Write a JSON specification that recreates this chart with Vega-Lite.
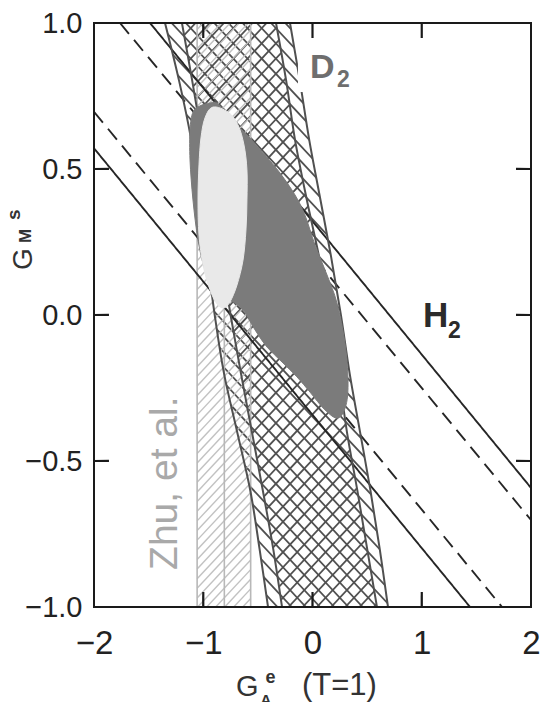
{
  "$schema": "https://vega.github.io/schema/vega-lite/v6.json",
  "width": 437,
  "height": 584,
  "autosize": "none",
  "padding": {"left": 94, "top": 23, "right": 10, "bottom": 95},
  "background": "white",
  "config": {
    "font": "Liberation Sans",
    "view": {"stroke": null},
    "axis": {"domain": false, "ticks": false, "grid": false, "labelColor": "#222", "labelFont": "Liberation Sans"}
  },
  "datasets": {
    "slash": [
      {"p": -6.2, "q": -1.2}, {"p": -6.07, "q": -1.07}, {"p": -5.94, "q": -0.94}, {"p": -5.81, "q": -0.81},
      {"p": -5.68, "q": -0.68}, {"p": -5.55, "q": -0.55}, {"p": -5.42, "q": -0.42}, {"p": -5.29, "q": -0.29},
      {"p": -5.16, "q": -0.16}, {"p": -5.03, "q": -0.03}, {"p": -4.9, "q": 0.1}, {"p": -4.77, "q": 0.23},
      {"p": -4.64, "q": 0.36}, {"p": -4.51, "q": 0.49}, {"p": -4.38, "q": 0.62}, {"p": -4.25, "q": 0.75},
      {"p": -4.12, "q": 0.88}, {"p": -3.99, "q": 1.01}, {"p": -3.86, "q": 1.14}, {"p": -3.73, "q": 1.27},
      {"p": -3.6, "q": 1.4}, {"p": -3.47, "q": 1.53}, {"p": -3.34, "q": 1.66}, {"p": -3.21, "q": 1.79},
      {"p": -3.08, "q": 1.92}, {"p": -2.95, "q": 2.05}, {"p": -2.82, "q": 2.18}, {"p": -2.69, "q": 2.31},
      {"p": -2.56, "q": 2.44}, {"p": -2.43, "q": 2.57}, {"p": -2.3, "q": 2.7}, {"p": -2.17, "q": 2.83},
      {"p": -2.04, "q": 2.96}, {"p": -1.91, "q": 3.09}, {"p": -1.78, "q": 3.22}, {"p": -1.65, "q": 3.35},
      {"p": -1.52, "q": 3.48}, {"p": -1.39, "q": 3.61}, {"p": -1.26, "q": 3.74}, {"p": -1.13, "q": 3.87},
      {"p": -1.0, "q": 4.0}, {"p": -0.87, "q": 4.13}, {"p": -0.74, "q": 4.26}, {"p": -0.61, "q": 4.39},
      {"p": -0.48, "q": 4.52}, {"p": -0.35, "q": 4.65}, {"p": -0.22, "q": 4.78}, {"p": -0.09, "q": 4.91},
      {"p": 0.04, "q": 5.04}, {"p": 0.17, "q": 5.17}, {"p": 0.3, "q": 5.3}, {"p": 0.43, "q": 5.43},
      {"p": 0.56, "q": 5.56}, {"p": 0.69, "q": 5.69}
    ],
    "back": [
      {"t": -5.45, "b": -0.45}, {"t": -5.32, "b": -0.32}, {"t": -5.19, "b": -0.19}, {"t": -5.06, "b": -0.06},
      {"t": -4.93, "b": 0.07}, {"t": -4.8, "b": 0.2}, {"t": -4.67, "b": 0.33}, {"t": -4.54, "b": 0.46},
      {"t": -4.41, "b": 0.59}, {"t": -4.28, "b": 0.72}, {"t": -4.15, "b": 0.85}, {"t": -4.02, "b": 0.98},
      {"t": -3.89, "b": 1.11}, {"t": -3.76, "b": 1.24}, {"t": -3.63, "b": 1.37}, {"t": -3.5, "b": 1.5},
      {"t": -3.37, "b": 1.63}, {"t": -3.24, "b": 1.76}, {"t": -3.11, "b": 1.89}, {"t": -2.98, "b": 2.02},
      {"t": -2.85, "b": 2.15}, {"t": -2.72, "b": 2.28}, {"t": -2.59, "b": 2.41}, {"t": -2.46, "b": 2.54},
      {"t": -2.33, "b": 2.67}, {"t": -2.2, "b": 2.8}, {"t": -2.07, "b": 2.93}, {"t": -1.94, "b": 3.06},
      {"t": -1.81, "b": 3.19}, {"t": -1.68, "b": 3.32}, {"t": -1.55, "b": 3.45}, {"t": -1.42, "b": 3.58},
      {"t": -1.29, "b": 3.71}, {"t": -1.16, "b": 3.84}, {"t": -1.03, "b": 3.97}, {"t": -0.9, "b": 4.1},
      {"t": -0.77, "b": 4.23}, {"t": -0.64, "b": 4.36}, {"t": -0.51, "b": 4.49}, {"t": -0.38, "b": 4.62},
      {"t": -0.25, "b": 4.75}, {"t": -0.12, "b": 4.88}
    ],
    "zhu": [
      {"c": -1.2, "d": -1.004}, {"c": -1.167, "d": -0.971}, {"c": -1.134, "d": -0.938}, {"c": -1.101, "d": -0.905},
      {"c": -1.068, "d": -0.872}, {"c": -1.035, "d": -0.839}, {"c": -1.002, "d": -0.806}, {"c": -0.969, "d": -0.773},
      {"c": -0.936, "d": -0.74}, {"c": -0.903, "d": -0.707}, {"c": -0.87, "d": -0.674}, {"c": -0.837, "d": -0.641},
      {"c": -0.804, "d": -0.608}, {"c": -0.771, "d": -0.575}, {"c": -0.738, "d": -0.542}, {"c": -0.705, "d": -0.509},
      {"c": -0.672, "d": -0.476}, {"c": -0.639, "d": -0.443}, {"c": -0.606, "d": -0.41}, {"c": -0.573, "d": -0.377},
      {"c": -0.54, "d": -0.344}, {"c": -0.507, "d": -0.311}, {"c": -0.474, "d": -0.278}, {"c": -0.441, "d": -0.245},
      {"c": -0.408, "d": -0.212}, {"c": -0.375, "d": -0.179}, {"c": -0.342, "d": -0.146}, {"c": -0.309, "d": -0.113},
      {"c": -0.276, "d": -0.08}, {"c": -0.243, "d": -0.047}, {"c": -0.21, "d": -0.014}, {"c": -0.177, "d": 0.019},
      {"c": -0.144, "d": 0.052}, {"c": -0.111, "d": 0.085}, {"c": -0.078, "d": 0.118}, {"c": -0.045, "d": 0.151},
      {"c": -0.012, "d": 0.184}, {"c": 0.021, "d": 0.217}, {"c": 0.054, "d": 0.25}, {"c": 0.087, "d": 0.283},
      {"c": 0.12, "d": 0.316}, {"c": 0.153, "d": 0.349}, {"c": 0.186, "d": 0.382}, {"c": 0.219, "d": 0.415},
      {"c": 0.252, "d": 0.448}, {"c": 0.285, "d": 0.481}, {"c": 0.318, "d": 0.514}, {"c": 0.351, "d": 0.547},
      {"c": 0.384, "d": 0.58}, {"c": 0.417, "d": 0.613}, {"c": 0.45, "d": 0.646}, {"c": 0.483, "d": 0.679},
      {"c": 0.516, "d": 0.712}, {"c": 0.549, "d": 0.745}, {"c": 0.582, "d": 0.778}, {"c": 0.615, "d": 0.811},
      {"c": 0.648, "d": 0.844}, {"c": 0.681, "d": 0.877}, {"c": 0.714, "d": 0.91}, {"c": 0.747, "d": 0.943},
      {"c": 0.78, "d": 0.976}, {"c": 0.813, "d": 1.009}, {"c": 0.846, "d": 1.042}, {"c": 0.879, "d": 1.075},
      {"c": 0.912, "d": 1.108}, {"c": 0.945, "d": 1.141}, {"c": 0.978, "d": 1.174}
    ],
    "zhulines": [
      {"x": -1.056, "y": -1, "y2": 1},
      {"x": -0.807, "y": -1, "y2": 0.16},
      {"x": -0.566, "y": -1, "y2": 1}
    ],
    "curves": [
      {"curve": "OL", "x": -1.35, "y": 1}, {"curve": "OL", "x": -1.22, "y": 0.8}, {"curve": "OL", "x": -1.11, "y": 0.6},
      {"curve": "OL", "x": -1.03, "y": 0.4}, {"curve": "OL", "x": -0.965, "y": 0.2}, {"curve": "OL", "x": -0.895, "y": 0},
      {"curve": "OL", "x": -0.81, "y": -0.2}, {"curve": "OL", "x": -0.69, "y": -0.4}, {"curve": "OL", "x": -0.57, "y": -0.6},
      {"curve": "OL", "x": -0.485, "y": -0.8}, {"curve": "OL", "x": -0.407, "y": -1},
      {"curve": "IL", "x": -1.195, "y": 1}, {"curve": "IL", "x": -1.1, "y": 0.8}, {"curve": "IL", "x": -1.01, "y": 0.6},
      {"curve": "IL", "x": -0.92, "y": 0.4}, {"curve": "IL", "x": -0.835, "y": 0.2}, {"curve": "IL", "x": -0.75, "y": 0},
      {"curve": "IL", "x": -0.655, "y": -0.2}, {"curve": "IL", "x": -0.555, "y": -0.4}, {"curve": "IL", "x": -0.455, "y": -0.6},
      {"curve": "IL", "x": -0.36, "y": -0.8}, {"curve": "IL", "x": -0.279, "y": -1},
      {"curve": "IR", "x": -0.334, "y": 1}, {"curve": "IR", "x": -0.24, "y": 0.8}, {"curve": "IR", "x": -0.16, "y": 0.6},
      {"curve": "IR", "x": -0.055, "y": 0.4}, {"curve": "IR", "x": 0.06, "y": 0.2}, {"curve": "IR", "x": 0.16, "y": 0},
      {"curve": "IR", "x": 0.24, "y": -0.2}, {"curve": "IR", "x": 0.315, "y": -0.4}, {"curve": "IR", "x": 0.41, "y": -0.6},
      {"curve": "IR", "x": 0.5, "y": -0.8}, {"curve": "IR", "x": 0.59, "y": -1},
      {"curve": "OR", "x": -0.206, "y": 1}, {"curve": "OR", "x": -0.115, "y": 0.8}, {"curve": "OR", "x": -0.03, "y": 0.6},
      {"curve": "OR", "x": 0.07, "y": 0.4}, {"curve": "OR", "x": 0.17, "y": 0.2}, {"curve": "OR", "x": 0.26, "y": 0},
      {"curve": "OR", "x": 0.34, "y": -0.2}, {"curve": "OR", "x": 0.435, "y": -0.4}, {"curve": "OR", "x": 0.53, "y": -0.6},
      {"curve": "OR", "x": 0.615, "y": -0.8}, {"curve": "OR", "x": 0.691, "y": -1}
    ],
    "h2": [
      {"band": "outer", "x": -2, "y": 0.571, "x2": 1.442, "y2": -1},
      {"band": "inner", "x": -2, "y": 0.696, "x2": 1.735, "y2": -1},
      {"band": "inner", "x": -1.762, "y": 1, "x2": 2, "y2": -0.702},
      {"band": "outer", "x": -1.487, "y": 1, "x2": 2, "y2": -0.592},
      {"band": "tick", "x": -1, "y": -1, "x2": -0.9999, "y2": -0.949},
      {"band": "tick", "x": 0, "y": -1, "x2": 0.0001, "y2": -0.949},
      {"band": "tick", "x": 1, "y": -1, "x2": 1.0001, "y2": -0.949},
      {"band": "tick", "x": -1, "y": 1, "x2": -0.9999, "y2": 0.949},
      {"band": "tick", "x": 0, "y": 1, "x2": 0.0001, "y2": 0.949},
      {"band": "tick", "x": 1, "y": 1, "x2": 1.0001, "y2": 0.949},
      {"band": "tick", "x": -2, "y": -0.5, "x2": -1.863, "y2": -0.4999},
      {"band": "tick", "x": -2, "y": 0, "x2": -1.863, "y2": 0.0001},
      {"band": "tick", "x": -2, "y": 0.5, "x2": -1.863, "y2": 0.5001},
      {"band": "tick", "x": 2, "y": -0.5, "x2": 1.863, "y2": -0.4999},
      {"band": "tick", "x": 2, "y": 0, "x2": 1.863, "y2": 0.0001},
      {"band": "tick", "x": 2, "y": 0.5, "x2": 1.863, "y2": 0.5001}
    ],
    "dark": [
      {"i": 0, "x": -1.094, "y": 0.695}, {"i": 1, "x": -1.03, "y": 0.716}, {"i": 2, "x": -0.938, "y": 0.726},
      {"i": 3, "x": -0.865, "y": 0.723}, {"i": 4, "x": -0.709, "y": 0.658}, {"i": 5, "x": -0.572, "y": 0.606},
      {"i": 6, "x": -0.435, "y": 0.548}, {"i": 7, "x": -0.297, "y": 0.486}, {"i": 8, "x": -0.16, "y": 0.411},
      {"i": 9, "x": -0.069, "y": 0.342}, {"i": 10, "x": 0.023, "y": 0.24}, {"i": 11, "x": 0.133, "y": 0.137},
      {"i": 12, "x": 0.224, "y": 0.041}, {"i": 13, "x": 0.297, "y": -0.096}, {"i": 14, "x": 0.325, "y": -0.223},
      {"i": 15, "x": 0.307, "y": -0.308}, {"i": 16, "x": 0.233, "y": -0.353}, {"i": 17, "x": 0.114, "y": -0.325},
      {"i": 18, "x": -0.023, "y": -0.264}, {"i": 19, "x": -0.142, "y": -0.212}, {"i": 20, "x": -0.279, "y": -0.161},
      {"i": 21, "x": -0.416, "y": -0.11}, {"i": 22, "x": -0.526, "y": -0.051}, {"i": 23, "x": -0.636, "y": 0.017},
      {"i": 24, "x": -0.755, "y": 0.051}, {"i": 25, "x": -0.892, "y": 0.086}, {"i": 26, "x": -0.984, "y": 0.154},
      {"i": 27, "x": -1.048, "y": 0.257}, {"i": 28, "x": -1.094, "y": 0.394}, {"i": 29, "x": -1.121, "y": 0.531},
      {"i": 30, "x": -1.121, "y": 0.634}
    ],
    "light": [
      {"i": 0, "x": -0.911, "y": 0.712}, {"i": 1, "x": -0.773, "y": 0.695}, {"i": 2, "x": -0.682, "y": 0.651},
      {"i": 3, "x": -0.627, "y": 0.582}, {"i": 4, "x": -0.6, "y": 0.497}, {"i": 5, "x": -0.6, "y": 0.394},
      {"i": 6, "x": -0.609, "y": 0.291}, {"i": 7, "x": -0.636, "y": 0.188}, {"i": 8, "x": -0.691, "y": 0.103},
      {"i": 9, "x": -0.755, "y": 0.045}, {"i": 10, "x": -0.81, "y": 0.024}, {"i": 11, "x": -0.874, "y": 0.038},
      {"i": 12, "x": -0.938, "y": 0.086}, {"i": 13, "x": -1.002, "y": 0.171}, {"i": 14, "x": -1.039, "y": 0.274},
      {"i": 15, "x": -1.048, "y": 0.394}, {"i": 16, "x": -1.039, "y": 0.514}, {"i": 17, "x": -1.021, "y": 0.606},
      {"i": 18, "x": -0.984, "y": 0.675}
    ]
  },
  "layer": [
    {
      "data": {"name": "slash"},
      "mark": {"type": "rule", "stroke": "#505050", "strokeWidth": 1.8, "clip": true},
      "encoding": {
        "x": {
          "field": "p", "type": "quantitative",
          "scale": {"domain": [-2, 2], "nice": false, "zero": false},
          "axis": {"values": [-2, -1, 0, 1, 2], "format": "d", "labelFontSize": 33, "labelPadding": 20, "labelFlush": false, "title": null}
        },
        "x2": {"field": "q"},
        "y": {"datum": -1, "type": "quantitative"},
        "y2": {"datum": 1}
      }
    },
    {
      "data": {"name": "curves"},
      "transform": [{"filter": "datum.curve == 'IL'"}],
      "mark": {"type": "area", "orient": "horizontal", "interpolate": "cardinal", "fill": "white", "clip": true},
      "encoding": {
        "y": {
          "field": "y", "type": "quantitative",
          "scale": {"domain": [-1, 1], "nice": false, "zero": false},
          "axis": {"values": [-1, -0.5, 0, 0.5, 1], "format": ".1f", "labelFontSize": 29, "labelPadding": 12, "labelFlush": false, "title": null}
        },
        "x": {"field": "x", "type": "quantitative"},
        "x2": {"datum": -2.5}
      }
    },
    {
      "data": {"name": "curves"},
      "transform": [{"filter": "datum.curve == 'IR'"}],
      "mark": {"type": "area", "orient": "horizontal", "interpolate": "cardinal", "fill": "white", "clip": true},
      "encoding": {
        "y": {"field": "y", "type": "quantitative"},
        "x": {"field": "x", "type": "quantitative"},
        "x2": {"datum": 2.5}
      }
    },
    {
      "data": {"name": "back"},
      "mark": {"type": "rule", "stroke": "#505050", "strokeWidth": 1.8, "clip": true},
      "encoding": {
        "x": {"field": "t", "type": "quantitative"},
        "x2": {"field": "b"},
        "y": {"datum": 1, "type": "quantitative"},
        "y2": {"datum": -1}
      }
    },
    {
      "data": {"name": "curves"},
      "transform": [{"filter": "datum.curve == 'OL'"}],
      "mark": {"type": "area", "orient": "horizontal", "interpolate": "cardinal", "fill": "white", "clip": true},
      "encoding": {
        "y": {"field": "y", "type": "quantitative"},
        "x": {"field": "x", "type": "quantitative"},
        "x2": {"datum": -2.5}
      }
    },
    {
      "data": {"name": "curves"},
      "transform": [{"filter": "datum.curve == 'OR'"}],
      "mark": {"type": "area", "orient": "horizontal", "interpolate": "cardinal", "fill": "white", "clip": true},
      "encoding": {
        "y": {"field": "y", "type": "quantitative"},
        "x": {"field": "x", "type": "quantitative"},
        "x2": {"datum": 2.5}
      }
    },
    {
      "data": {"name": "zhu"},
      "mark": {"type": "rule", "stroke": "#c2c2c2", "strokeWidth": 1.4, "clip": true},
      "encoding": {
        "x": {"datum": -1.056, "type": "quantitative"},
        "x2": {"datum": -0.566},
        "y": {"field": "c", "type": "quantitative"},
        "y2": {"field": "d"}
      }
    },
    {
      "data": {"name": "zhulines"},
      "mark": {"type": "rule", "stroke": "#b8b8b8", "strokeWidth": 1.6, "clip": true},
      "encoding": {
        "x": {"field": "x", "type": "quantitative"},
        "y": {"field": "y", "type": "quantitative"},
        "y2": {"field": "y2"}
      }
    },
    {
      "data": {"name": "h2"},
      "transform": [{"filter": "datum.band != 'tick'"}],
      "mark": {"type": "rule", "stroke": "#262626", "strokeWidth": 1.9, "clip": true},
      "encoding": {
        "x": {"field": "x", "type": "quantitative"},
        "y": {"field": "y", "type": "quantitative"},
        "x2": {"field": "x2"},
        "y2": {"field": "y2"},
        "strokeDash": {
          "field": "band", "type": "nominal",
          "scale": {"domain": ["outer", "inner"], "range": [[1, 0], [14, 8]]},
          "legend": null
        }
      }
    },
    {
      "data": {"name": "curves"},
      "mark": {"type": "line", "interpolate": "cardinal", "stroke": "#505050", "strokeWidth": 2, "clip": true},
      "encoding": {
        "x": {"field": "x", "type": "quantitative"},
        "y": {"field": "y", "type": "quantitative"},
        "detail": {"field": "curve"}
      }
    },
    {
      "data": {"name": "dark"},
      "mark": {"type": "line", "interpolate": "cardinal-closed", "fill": "#7b7b7b", "stroke": "#7b7b7b", "strokeWidth": 1, "clip": true},
      "encoding": {
        "x": {"field": "x", "type": "quantitative"},
        "y": {"field": "y", "type": "quantitative"},
        "order": {"field": "i"}
      }
    },
    {
      "data": {"name": "light"},
      "mark": {"type": "line", "interpolate": "cardinal-closed", "fill": "#e9e9e9", "stroke": "#e9e9e9", "strokeWidth": 1, "clip": true},
      "encoding": {
        "x": {"field": "x", "type": "quantitative"},
        "y": {"field": "y", "type": "quantitative"},
        "order": {"field": "i"}
      }
    },
    {
      "data": {"name": "h2"},
      "transform": [{"filter": "datum.band == 'tick'"}],
      "mark": {"type": "rule", "stroke": "#1a1a1a", "strokeWidth": 2.2, "clip": true},
      "encoding": {
        "x": {"field": "x", "type": "quantitative"},
        "y": {"field": "y", "type": "quantitative"},
        "x2": {"field": "x2"},
        "y2": {"field": "y2"}
      }
    },
    {
      "data": {"values": [{}]},
      "mark": {"type": "rect", "fill": "white"},
      "encoding": {
        "x": {"datum": -0.133, "type": "quantitative"},
        "x2": {"datum": 0.389},
        "y": {"datum": 0.764, "type": "quantitative"},
        "y2": {"datum": 0.925}
      }
    },
    {
      "data": {"values": [{}]},
      "mark": {"type": "rect", "fill": null, "fillOpacity": 0, "stroke": "#1a1a1a", "strokeWidth": 2},
      "encoding": {
        "x": {"datum": -2, "type": "quantitative"},
        "x2": {"datum": 2},
        "y": {"datum": -1, "type": "quantitative"},
        "y2": {"datum": 1}
      }
    },
    {
      "data": {"values": [{}]},
      "mark": {"type": "text", "text": "D", "fontSize": 34, "fontWeight": "bold", "fill": "#6e6e6e", "align": "left", "baseline": "alphabetic"},
      "encoding": {"x": {"datum": -0.023, "type": "quantitative"}, "y": {"datum": 0.812, "type": "quantitative"}}
    },
    {
      "data": {"values": [{}]},
      "mark": {"type": "text", "text": "2", "fontSize": 23, "fontWeight": "bold", "fill": "#6e6e6e", "align": "left", "baseline": "alphabetic"},
      "encoding": {"x": {"datum": 0.224, "type": "quantitative"}, "y": {"datum": 0.781, "type": "quantitative"}}
    },
    {
      "data": {"values": [{}]},
      "mark": {"type": "text", "text": "H", "fontSize": 35, "fontWeight": "bold", "fill": "#2b2b2b", "align": "left", "baseline": "alphabetic"},
      "encoding": {"x": {"datum": 1.011, "type": "quantitative"}, "y": {"datum": -0.041, "type": "quantitative"}}
    },
    {
      "data": {"values": [{}]},
      "mark": {"type": "text", "text": "2", "fontSize": 23, "fontWeight": "bold", "fill": "#2b2b2b", "align": "left", "baseline": "alphabetic"},
      "encoding": {"x": {"datum": 1.24, "type": "quantitative"}, "y": {"datum": -0.079, "type": "quantitative"}}
    },
    {
      "data": {"values": [{}]},
      "mark": {"type": "text", "text": "Zhu, et al.", "fontSize": 39, "fill": "#a9a9a9", "angle": 270, "align": "left", "baseline": "alphabetic"},
      "encoding": {"x": {"datum": -1.24, "type": "quantitative"}, "y": {"datum": -0.873, "type": "quantitative"}}
    },
    {
      "data": {"values": [{}]},
      "mark": {"type": "text", "text": "G", "fontSize": 28, "fill": "#333333", "angle": 270, "align": "left", "baseline": "alphabetic"},
      "encoding": {"x": {"datum": -2.568, "type": "quantitative"}, "y": {"datum": 0.154, "type": "quantitative"}}
    },
    {
      "data": {"values": [{}]},
      "mark": {"type": "text", "text": "M", "fontSize": 17, "fontWeight": "bold", "fill": "#333333", "angle": 270, "align": "left", "baseline": "alphabetic"},
      "encoding": {"x": {"datum": -2.577, "type": "quantitative"}, "y": {"datum": 0.247, "type": "quantitative"}}
    },
    {
      "data": {"values": [{}]},
      "mark": {"type": "text", "text": "s", "fontSize": 19, "fontWeight": "bold", "fill": "#333333", "angle": 270, "align": "left", "baseline": "alphabetic"},
      "encoding": {"x": {"datum": -2.673, "type": "quantitative"}, "y": {"datum": 0.325, "type": "quantitative"}}
    },
    {
      "data": {"values": [{}]},
      "mark": {"type": "text", "text": "G", "fontSize": 29, "fill": "#333333", "align": "left", "baseline": "alphabetic"},
      "encoding": {"x": {"datum": -0.7, "type": "quantitative"}, "y": {"datum": -1.305, "type": "quantitative"}}
    },
    {
      "data": {"values": [{}]},
      "mark": {"type": "text", "text": "A", "fontSize": 15, "fontWeight": "bold", "fill": "#333333", "align": "left", "baseline": "alphabetic"},
      "encoding": {"x": {"datum": -0.475, "type": "quantitative"}, "y": {"datum": -1.335, "type": "quantitative"}}
    },
    {
      "data": {"values": [{}]},
      "mark": {"type": "text", "text": "e", "fontSize": 18, "fontWeight": "bold", "fill": "#333333", "align": "left", "baseline": "alphabetic"},
      "encoding": {"x": {"datum": -0.43, "type": "quantitative"}, "y": {"datum": -1.26, "type": "quantitative"}}
    },
    {
      "data": {"values": [{}]},
      "mark": {"type": "text", "text": "(T=1)", "fontSize": 31, "fill": "#333333", "align": "left", "baseline": "alphabetic"},
      "encoding": {"x": {"datum": -0.096, "type": "quantitative"}, "y": {"datum": -1.301, "type": "quantitative"}}
    }
  ]
}
